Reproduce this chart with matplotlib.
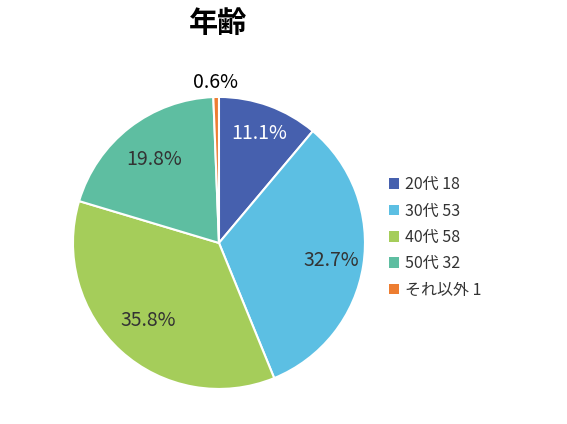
import numpy as np
import matplotlib
matplotlib.use("Agg")
import matplotlib.pyplot as plt

plt.rcParams['font.family'] = ['Noto Sans CJK JP', 'DejaVu Sans']

# Age groups and respondent counts
categories = ["20代", "30代", "40代", "50代", "それ以外"]
counts = [18, 53, 58, 32, 1]
colors = ["#4660AE", "#5CBFE3", "#A5CD5A", "#5EBEA1", "#ED7D31"]
label_colors = ["white", "#333333", "#333333", "#333333", "black"]
label_dist = [0.80, 0.78, 0.72, 0.72, 1.10]

fig = plt.figure(figsize=(5.67, 4.24), dpi=100)
ax = fig.add_axes([0.1287, 0.0825, 0.515, 0.689])

wedges, _ = ax.pie(counts, colors=colors, startangle=90, counterclock=False,
                   wedgeprops=dict(edgecolor="white", linewidth=1.5))
ax.set_xlim(-1, 1)
ax.set_ylim(-1, 1)
ax.set_aspect("equal")

total = sum(counts)
for w, c, tc, d in zip(wedges, counts, label_colors, label_dist):
    ang = np.deg2rad((w.theta1 + w.theta2) / 2)
    ax.text(d * np.cos(ang), d * np.sin(ang), f"{c / total * 100:.1f}%",
            ha="center", va="center", fontsize=14, color=tc, clip_on=False)

fig.text(0.384, 0.945, "年齢", ha="center", va="center", fontsize=21,
         fontweight="bold", color="black")

leg_labels = [f"{cat} {n}" for cat, n in zip(categories, counts)]
fig.legend(wedges, leg_labels, loc="center left", bbox_to_anchor=(0.66, 0.44),
           frameon=False, fontsize=11.5, handlelength=0.65, handleheight=0.65,
           handletextpad=0.4, labelspacing=0.58, labelcolor="#333333")
for h in fig.legends[0].legend_handles:
    h.set_edgecolor("none")

fig.savefig("out.png", dpi=100)
